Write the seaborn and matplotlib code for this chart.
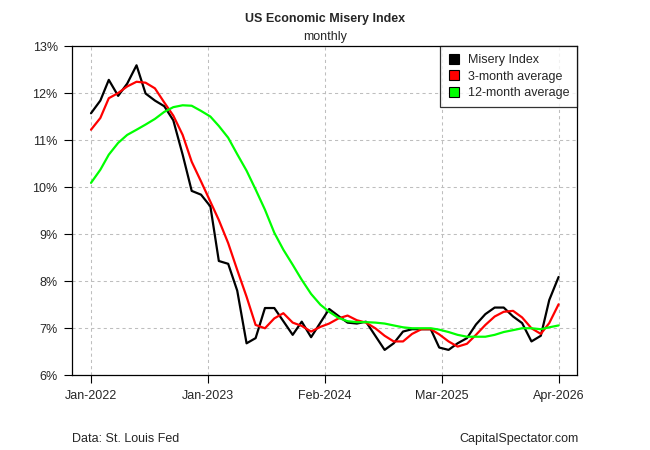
import numpy as np
import pandas as pd
import matplotlib
matplotlib.use("Agg")
import matplotlib.pyplot as plt
import matplotlib.dates as mdates
from matplotlib.lines import Line2D
from matplotlib.ticker import FixedLocator, FuncFormatter
import seaborn as sns

months = pd.date_range("2022-01-01", "2026-04-01", freq="MS")

misery = [11.57, 11.84, 12.28, 11.94, 12.20, 12.59, 11.99, 11.84, 11.72, 11.42, 10.69, 9.92,
          9.84, 9.59, 8.43, 8.37, 7.80, 6.68, 6.79, 7.43, 7.43, 7.15, 6.86, 7.14,
          6.81, 7.12, 7.41, 7.26, 7.12, 7.10, 7.14, 6.84, 6.54, 6.68, 6.93, 6.98,
          6.98, 6.98, 6.59, 6.54, 6.68, 6.79, 7.08, 7.30, 7.44, 7.44, 7.25, 7.11,
          6.72, 6.84, 7.60, 8.09]
avg3 = [11.22, 11.47, 11.89, 12.00, 12.14, 12.24, 12.22, 12.10, 11.80, 11.52, 11.11, 10.54,
        10.12, 9.69, 9.30, 8.81, 8.24, 7.67, 7.07, 7.00, 7.21, 7.32, 7.12, 7.05,
        6.93, 7.03, 7.10, 7.21, 7.27, 7.17, 7.12, 7.00, 6.84, 6.72, 6.72, 6.88,
        6.98, 6.98, 6.87, 6.72, 6.61, 6.67, 6.86, 7.07, 7.25, 7.35, 7.37, 7.23,
        7.00, 6.88, 7.11, 7.51]
avg12 = [10.09, 10.37, 10.69, 10.94, 11.11, 11.22, 11.33, 11.45, 11.60, 11.70, 11.74, 11.73,
         11.62, 11.50, 11.30, 11.05, 10.70, 10.35, 9.95, 9.52, 9.03, 8.67, 8.35, 8.03,
         7.73, 7.50, 7.35, 7.22, 7.15, 7.13, 7.13, 7.12, 7.10, 7.06, 7.02, 7.00,
         7.00, 7.00, 6.97, 6.92, 6.86, 6.82, 6.82, 6.82, 6.86, 6.92, 6.96, 7.00,
         7.00, 6.98, 7.02, 7.06]

series_names = ["Misery Index", "3-month average", "12-month average"]
series_colors = ["#000000", "#FF0000", "#00FF00"]
y_ticks = [6, 7, 8, 9, 10, 11, 12, 13]

df = pd.concat([
    pd.DataFrame({"date": months, "value": v, "series": n})
    for v, n in zip([misery, avg3, avg12], series_names)
])

sns.set_style("white")
plt.rcParams["font.family"] = ["Liberation Sans", "DejaVu Sans"]

fig = plt.figure(figsize=(6.5, 4.5), dpi=100)
ax = fig.add_axes([72.3 / 650, 1 - 375.3 / 450, (577.3 - 72.3) / 650, (375.3 - 46) / 450])

sns.lineplot(data=df, x="date", y="value", hue="series", hue_order=series_names,
             palette=series_colors, linewidth=1.6, legend=False, ax=ax, zorder=3)

# x axis: 5 equally spaced ticks across the date range, R-style 4% padding
x0 = mdates.date2num(months[0])
x1 = mdates.date2num(months[-1])
pad = (x1 - x0) * 0.04
ax.set_xlim(x0 - pad, x1 + pad)
xt = np.linspace(x0, x1, 5)
ax.xaxis.set_major_locator(FixedLocator(xt))
ax.xaxis.set_major_formatter(mdates.DateFormatter("%b-%Y"))

ax.set_ylim(6, 13)
ax.yaxis.set_major_locator(FixedLocator(y_ticks))
ax.yaxis.set_major_formatter(FuncFormatter(lambda v, p: f"{v:.0f}%"))

ax.grid(True, color="#BEBEBE", linestyle=(0, (3, 3)), linewidth=0.75, zorder=0)
ax.set_xlabel("")
ax.set_ylabel("")
for s in ax.spines.values():
    s.set_visible(True)
    s.set_color("black")
    s.set_linewidth(0.9)
ax.tick_params(axis="both", which="major", direction="out", length=5.5, width=0.8,
               color="black", labelsize=9, pad=5, left=True, bottom=True)

handles = [Line2D([0], [0], linestyle="none", marker="s", markersize=7,
                  markerfacecolor=c, markeredgecolor="black", markeredgewidth=0.8)
           for c in series_colors]
leg = ax.legend(handles, series_names, loc="upper right", borderaxespad=0,
                frameon=True, fancybox=False, fontsize=9, handlelength=1.0,
                handletextpad=0.6, labelspacing=0.35, borderpad=0.65)
leg.get_frame().set_edgecolor("black")
leg.get_frame().set_linewidth(0.9)
leg.set_zorder(5)

fig.text(0.5, 1 - 19 / 450, "US Economic Misery Index", ha="center", va="center",
         fontsize=9, fontweight="bold")
fig.text(0.5, 1 - 37 / 450, "monthly", ha="center", va="center", fontsize=9)
fig.text(71.5 / 650, 1 - 439 / 450, "Data: St. Louis Fed", ha="left", va="center", fontsize=9)
fig.text(579 / 650, 1 - 439 / 450, "CapitalSpectator.com", ha="right", va="center", fontsize=9)

fig.savefig("out.png", dpi=100, facecolor="white")
